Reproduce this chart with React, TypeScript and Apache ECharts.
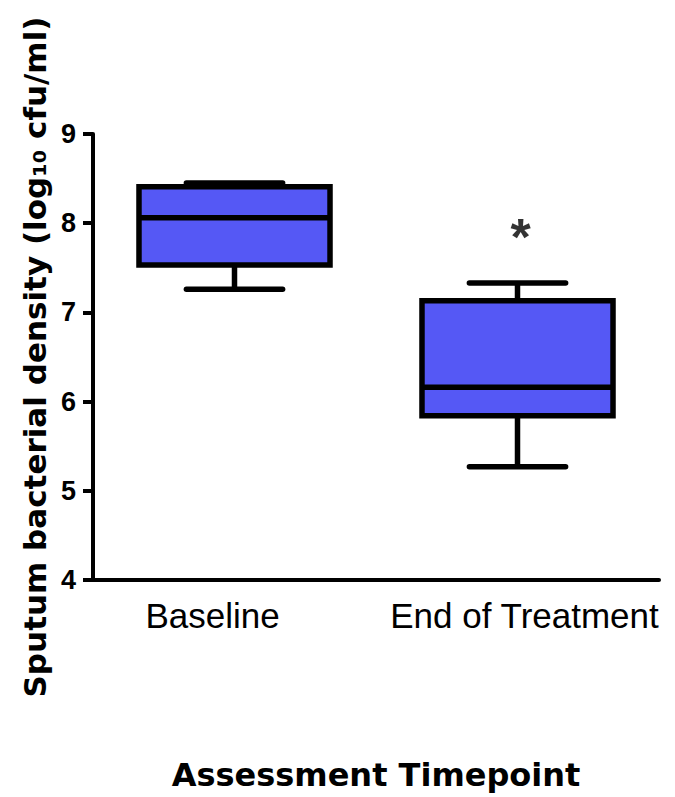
import React, { useEffect, useRef } from "react";
import * as echarts from "echarts";

const categories = ["Baseline", "End of Treatment"];
// [min, Q1, median, Q3, max]
const boxBaseline = [7.26, 7.53, 8.06, 8.41, 8.45];
const boxEndOfTreatment = [5.27, 5.84, 6.16, 7.13, 7.33];
const significance = [[1, 7.84]];
const significanceMark = "*";
const yTicks = { min: 4, max: 9, interval: 1 };

const FILL = "#5558F5";

export default function App() {
  const ref = useRef<HTMLDivElement>(null);
  useEffect(() => {
    document.body.style.margin = "0";
    const chart = echarts.init(ref.current!, null, { renderer: "svg" });
    const boxData = [boxBaseline, boxEndOfTreatment].map((v, i) => [i, ...v]);
    const labelFont = { color: "#000", fontSize: 35, fontFamily: "Liberation Sans" };
    chart.setOption({
      animation: false,
      backgroundColor: "#ffffff",
      grid: {
        left: 93,
        right: 16,
        top: 134,
        bottom: 217,
        containLabel: false,
        outerBoundsMode: "none",
      },
      xAxis: {
        type: "category",
        data: categories,
        boundaryGap: true,
        axisLine: { lineStyle: { color: "#000", width: 4 } },
        axisTick: { alignWithLabel: true, interval: 0, length: 11, lineStyle: { color: "#000", width: 4 } },
        axisLabel: {
          ...labelFont,
          interval: 0,
          hideOverlap: false,
          margin: 18,
          formatter: (v: string, i: number) => (i === 0 ? `{l|${v}}` : `{r|${v}}`),
          rich: {
            l: { ...labelFont, padding: [0, 44, 0, 0] },
            r: { ...labelFont, padding: [0, 0, 0, 14] },
          },
        },
        name: "Assessment Timepoint",
        nameLocation: "middle",
        nameGap: 179,
        nameTextStyle: {
          color: "#000",
          fontSize: 32,
          fontWeight: "bold",
          fontFamily: "DejaVu Sans",
        },
        splitLine: { show: false },
      },
      yAxis: {
        type: "value",
        min: yTicks.min,
        max: yTicks.max,
        interval: yTicks.interval,
        axisLine: { show: true, lineStyle: { color: "#000", width: 4 } },
        axisTick: { show: true, length: 10, lineStyle: { color: "#000", width: 4 } },
        axisLabel: {
          color: "#000",
          fontSize: 27,
          fontWeight: "bold",
          fontFamily: "Liberation Sans",
          margin: 17,
        },
        splitLine: { show: false },
        name: "Sputum bacterial density (log\u2081\u2080 cfu/ml)",
        nameLocation: "middle",
        nameGap: 42,
        nameTextStyle: {
          color: "#000",
          fontSize: 31,
          fontWeight: "bold",
          fontFamily: "DejaVu Sans",
        },
      },
      series: [
        {
          type: "custom",
          data: boxData,
          encode: { x: 0, y: [1, 2, 3, 4, 5] },
          renderItem: (params: any, api: any) => {
            const idx = api.value(0);
            const band = api.size([1, 0])[0];
            const boxW = band * 0.675;
            const capW = band * 0.34;
            const pMin = api.coord([idx, api.value(1)]);
            const pQ1 = api.coord([idx, api.value(2)]);
            const pMed = api.coord([idx, api.value(3)]);
            const pQ3 = api.coord([idx, api.value(4)]);
            const pMax = api.coord([idx, api.value(5)]);
            const cx = pMed[0];
            const lineStyle = { stroke: "#000", lineWidth: 5.5, fill: null };
            return {
              type: "group",
              children: [
                { type: "line", shape: { x1: cx, y1: pQ1[1], x2: cx, y2: pMin[1] }, style: lineStyle },
                { type: "line", shape: { x1: cx, y1: pQ3[1], x2: cx, y2: pMax[1] }, style: lineStyle },
                {
                  type: "rect",
                  shape: { x: cx - boxW / 2, y: pQ3[1], width: boxW, height: pQ1[1] - pQ3[1] },
                  style: { fill: FILL, stroke: "#000", lineWidth: 5.5 },
                },
                { type: "line", shape: { x1: cx - boxW / 2, y1: pMed[1], x2: cx + boxW / 2, y2: pMed[1] }, style: lineStyle },
                { type: "line", shape: { x1: cx - capW / 2, y1: pMin[1], x2: cx + capW / 2, y2: pMin[1] }, style: { ...lineStyle, lineCap: "round" } },
                { type: "line", shape: { x1: cx - capW / 2, y1: pMax[1], x2: cx + capW / 2, y2: pMax[1] }, style: { ...lineStyle, lineCap: "round" } },
              ],
            };
          },
          z: 2,
        },
        {
          type: "scatter",
          data: significance,
          symbolSize: 0,
          silent: true,
          label: {
            show: true,
            position: "inside",
            formatter: significanceMark,
            color: "#000",
            fontSize: 52,
            fontWeight: "bold",
            fontFamily: "Liberation Sans",
            offset: [3, 0],
          },
          z: 3,
        },
      ],
    });
    return () => chart.dispose();
  }, []);
  return <div ref={ref} style={{ width: 675, height: 797 }} />;
}
